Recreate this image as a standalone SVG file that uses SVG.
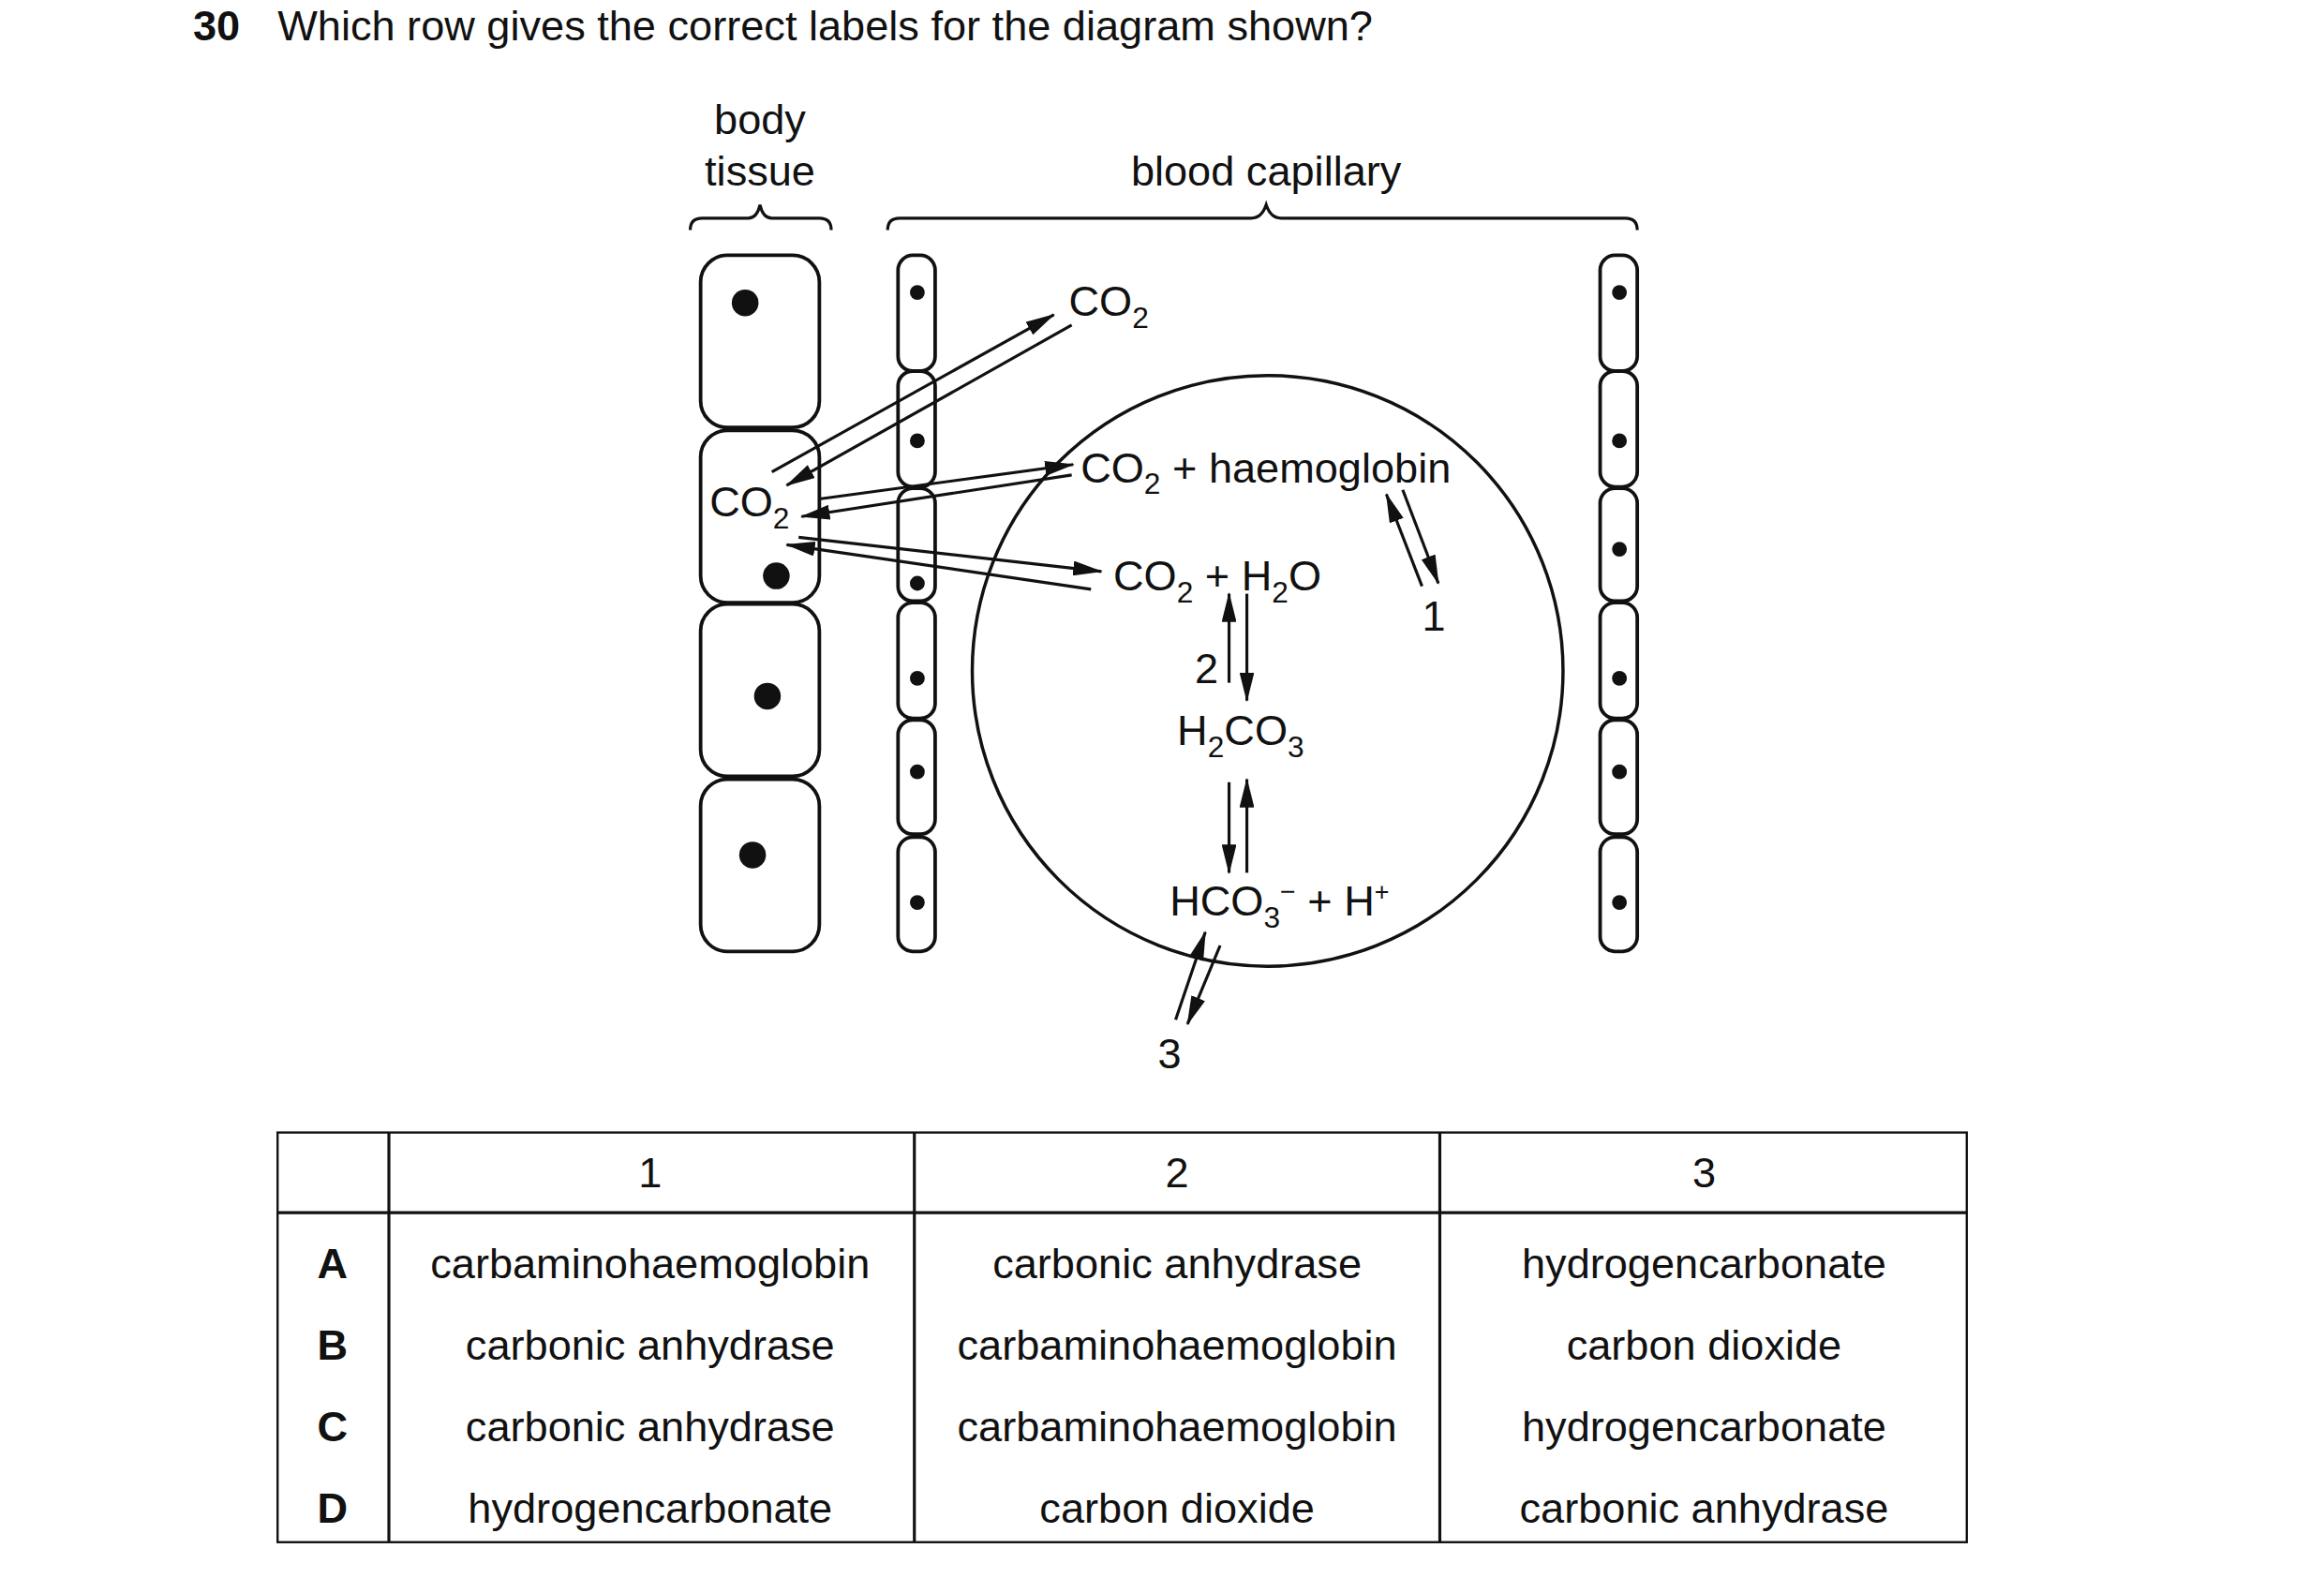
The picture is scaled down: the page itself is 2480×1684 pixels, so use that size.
<svg xmlns="http://www.w3.org/2000/svg" width="2480" height="1684" viewBox="0 0 2480 1684">
<defs>
<marker id="ah" markerWidth="20" markerHeight="10" refX="19" refY="5" orient="auto" markerUnits="userSpaceOnUse"><path d="M0,0 L20,5 L0,10 Z" fill="#111"/></marker>
<style>
text{font-family:"Liberation Sans",Arial,sans-serif;font-size:28.5px;fill:#111}
.b{font-weight:bold}
.m{text-anchor:middle}
.cell{fill:#fff;stroke:#111;stroke-width:2.4}
.ln{stroke:#111;stroke-width:2;fill:none}
.ar{stroke:#111;stroke-width:2;fill:none;marker-end:url(#ah)}
.nuc{fill:#111}
</style>
</defs>
<rect width="2480" height="1684" fill="#fff"/>
<g transform="scale(1.584)">
<g id="title"><text x="130" y="27" class="b">30</text><text x="187" y="27">Which row gives the correct labels for the diagram shown?</text></g>
<g id="labels">
<text x="512" y="90" class="m">body</text><text x="512" y="125" class="m">tissue</text>
<path class="ln" d="M465,155 Q465,147 473,147 L504,147 Q510,147 512,138 Q514,147 520,147 L552,147 Q560,147 560,155" stroke-width="1.3"/>
<text x="853" y="125" class="m">blood capillary</text>
<path class="ln" d="M598,155 Q598,147 606,147 L843,147 Q850,147 853,138 Q856,147 863,147 L1095,147 Q1103,147 1103,155" stroke-width="1.3"/>
</g>
<g id="tissue">
<rect class="cell" x="472" y="172" width="80" height="116" rx="18"/>
<rect class="cell" x="472" y="290" width="80" height="116" rx="18"/>
<rect class="cell" x="472" y="407" width="80" height="116" rx="18"/>
<rect class="cell" x="472" y="525" width="80" height="116" rx="18"/>
<circle class="nuc" cx="502" cy="204" r="9"/><circle class="nuc" cx="523" cy="388" r="9"/><circle class="nuc" cx="517" cy="469" r="9"/><circle class="nuc" cx="507" cy="576" r="9"/>
</g>
<g id="capillary-left">
<rect class="cell" x="605" y="172" width="25" height="78" rx="10"/>
<rect class="cell" x="605" y="250" width="25" height="78" rx="10"/>
<rect class="cell" x="605" y="329" width="25" height="76" rx="10"/>
<rect class="cell" x="605" y="406" width="25" height="78" rx="10"/>
<rect class="cell" x="605" y="485" width="25" height="77" rx="10"/>
<rect class="cell" x="605" y="564" width="25" height="77" rx="10"/>
<circle class="nuc" cx="618" cy="197" r="5"/><circle class="nuc" cx="618" cy="297" r="5"/><circle class="nuc" cx="618" cy="393" r="5"/><circle class="nuc" cx="618" cy="457" r="5"/><circle class="nuc" cx="618" cy="520" r="5"/><circle class="nuc" cx="618" cy="608" r="5"/>
</g>
<g id="capillary-right">
<rect class="cell" x="1078" y="172" width="25" height="78" rx="10"/>
<rect class="cell" x="1078" y="250" width="25" height="78" rx="10"/>
<rect class="cell" x="1078" y="329" width="25" height="76" rx="10"/>
<rect class="cell" x="1078" y="406" width="25" height="78" rx="10"/>
<rect class="cell" x="1078" y="485" width="25" height="77" rx="10"/>
<rect class="cell" x="1078" y="564" width="25" height="77" rx="10"/>
<circle class="nuc" cx="1091" cy="197" r="5"/><circle class="nuc" cx="1091" cy="297" r="5"/><circle class="nuc" cx="1091" cy="370" r="5"/><circle class="nuc" cx="1091" cy="457" r="5"/><circle class="nuc" cx="1091" cy="520" r="5"/><circle class="nuc" cx="1091" cy="608" r="5"/>
</g>
<g id="rbc"><circle cx="854" cy="452" r="199" fill="none" stroke="#111" stroke-width="2.2"/></g>
<g id="texts">
<text x="720" y="213">CO<tspan font-size="20" dy="8">2</tspan></text>
<text x="478" y="348">CO<tspan font-size="20" dy="8">2</tspan></text>
<text x="728" y="325">CO<tspan font-size="20" dy="8">2</tspan><tspan dy="-8"> + haemoglobin</tspan></text>
<text x="750" y="398">CO<tspan font-size="20" dy="8">2</tspan><tspan dy="-8"> + H</tspan><tspan font-size="20" dy="8">2</tspan><tspan dy="-8">O</tspan></text>
<text x="805" y="460">2</text>
<text x="793" y="502">H<tspan font-size="20" dy="8">2</tspan><tspan dy="-8">CO</tspan><tspan font-size="20" dy="8">3</tspan></text>
<text x="788" y="617">HCO<tspan font-size="20" dy="8">3</tspan><tspan font-size="18" dy="-18">−</tspan><tspan dy="10"> + H</tspan><tspan font-size="17" dy="-10">+</tspan></text>
<text x="958" y="425">1</text>
<text x="780" y="720">3</text>
</g>
<g id="connectors">
<line class="ar" x1="520" y1="318" x2="710" y2="212"/>
<line class="ar" x1="722" y1="219" x2="530" y2="327"/>
<line class="ar" x1="553" y1="336" x2="723" y2="313"/>
<line class="ar" x1="722" y1="320" x2="540" y2="348"/>
<line class="ar" x1="538" y1="362" x2="742" y2="385"/>
<line class="ar" x1="735" y1="397" x2="530" y2="367"/>
<line class="ar" x1="828" y1="460" x2="828" y2="400"/>
<line class="ar" x1="840" y1="400" x2="840" y2="472"/>
<line class="ar" x1="828" y1="527" x2="828" y2="588"/>
<line class="ar" x1="840" y1="588" x2="840" y2="525"/>
<line class="ar" x1="958" y1="395" x2="934" y2="333"/>
<line class="ar" x1="945" y1="330" x2="969" y2="393"/>
<line class="ar" x1="792" y1="687" x2="812" y2="628"/>
<line class="ar" x1="822" y1="637" x2="800" y2="690"/>
</g>
<g id="table">
<rect x="187" y="763" width="1138" height="276" fill="none" stroke="#111" stroke-width="1.5"/>
<path class="ln" stroke-width="1.5" d="M262,763V1039M616,763V1039M970,763V1039M187,817H1325"/>
<text x="438" y="800" class="m">1</text><text x="793" y="800" class="m">2</text><text x="1148" y="800" class="m">3</text>
<text x="224" y="861" class="m b">A</text><text x="438" y="861" class="m">carbaminohaemoglobin</text><text x="793" y="861" class="m">carbonic anhydrase</text><text x="1148" y="861" class="m">hydrogencarbonate</text>
<text x="224" y="916" class="m b">B</text><text x="438" y="916" class="m">carbonic anhydrase</text><text x="793" y="916" class="m">carbaminohaemoglobin</text><text x="1148" y="916" class="m">carbon dioxide</text>
<text x="224" y="971" class="m b">C</text><text x="438" y="971" class="m">carbonic anhydrase</text><text x="793" y="971" class="m">carbaminohaemoglobin</text><text x="1148" y="971" class="m">hydrogencarbonate</text>
<text x="224" y="1026" class="m b">D</text><text x="438" y="1026" class="m">hydrogencarbonate</text><text x="793" y="1026" class="m">carbon dioxide</text><text x="1148" y="1026" class="m">carbonic anhydrase</text>
</g>
</g>
</svg>
